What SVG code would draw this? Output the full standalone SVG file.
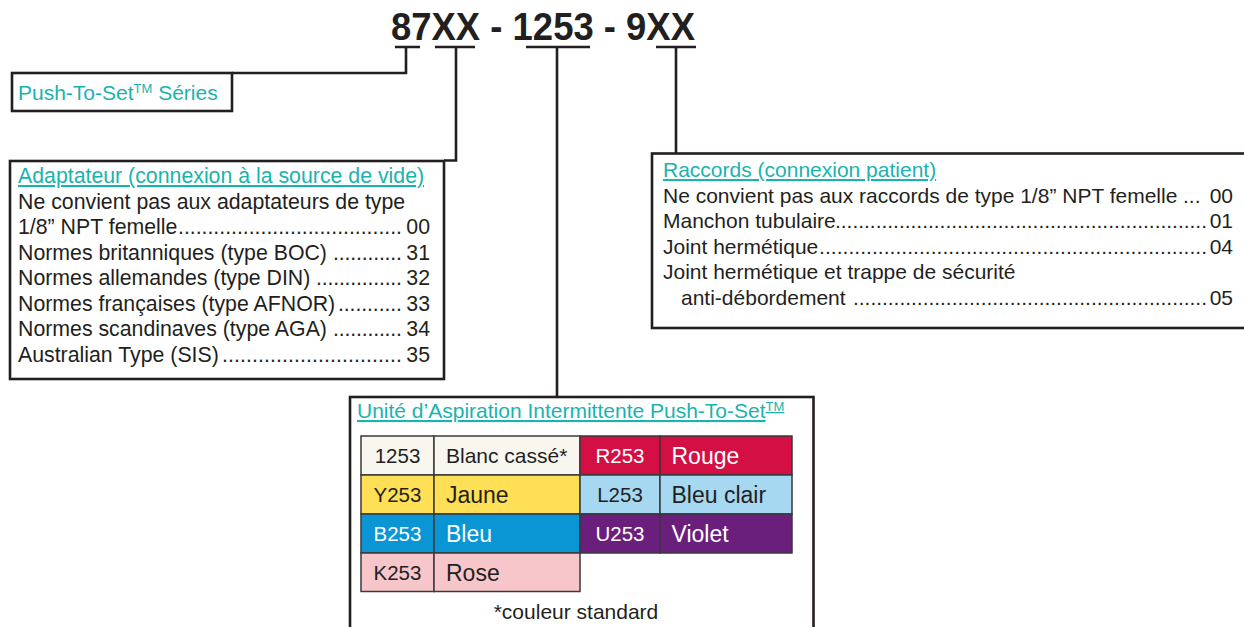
<svg xmlns="http://www.w3.org/2000/svg" width="1244" height="627" viewBox="0 0 1244 627">
<style>
text{font-family:"Liberation Sans",Arial,Helvetica,sans-serif;fill:#231f20}
.title{font-size:38px;font-weight:bold}
.hd{fill:#1ab3ad;text-decoration:underline}
.t{font-size:21px}
.ta{font-size:21.3px}
.box{fill:#fff;stroke:#231f20;stroke-width:2.6}
.conn{fill:none;stroke:#231f20;stroke-width:2.6}
.cell{stroke:#3a3a3a;stroke-width:1.5}
.code{font-size:20.5px;text-anchor:middle}
.nm{font-size:23px}
.w{fill:#fff}
</style>
<rect width="1244" height="627" fill="#fff"/>
<g id="title">
<text class="title" x="391" y="40" textLength="304" lengthAdjust="spacingAndGlyphs">87XX - 1253 - 9XX</text>
</g>
<g id="connectors">
<path class="conn" d="M395 47H420M406 47V73H232"/>
<path class="conn" d="M435 47H475M456 47V160.5H444"/>
<path class="conn" d="M526 47H590M557 47V397"/>
<path class="conn" d="M656 47H696M676 47V153.5"/>
</g>
<g id="series">
<rect class="box" x="12" y="73" width="220" height="38"/>
<text class="t" x="18" y="100" style="fill:#1ab3ad">Push-To-Set<tspan font-size="13" dy="-7">TM</tspan><tspan dy="7"> Séries</tspan></text>
</g>
<g id="adaptateur">
<rect class="box" x="10" y="161" width="434" height="218"/>
<text class="ta hd" x="18" y="183">Adaptateur (connexion à la source de vide)</text>
<text class="ta" x="18" y="209">Ne convient pas aux adaptateurs de type</text>
<text class="ta" x="18" y="234">1/8” NPT femelle</text>
<text class="ta" x="178" y="234" textLength="224" lengthAdjust="spacing">......................................</text>
<text class="ta" x="430" y="234" text-anchor="end">00</text>
<text class="ta" x="18" y="260">Normes britanniques (type BOC)</text>
<text class="ta" x="333" y="260" textLength="69" lengthAdjust="spacing">............</text>
<text class="ta" x="430" y="260" text-anchor="end">31</text>
<text class="ta" x="18" y="285">Normes allemandes (type DIN)</text>
<text class="ta" x="316" y="285" textLength="86" lengthAdjust="spacing">...............</text>
<text class="ta" x="430" y="285" text-anchor="end">32</text>
<text class="ta" x="18" y="310.5">Normes françaises (type AFNOR)</text>
<text class="ta" x="338" y="310.5" textLength="64" lengthAdjust="spacing">...........</text>
<text class="ta" x="430" y="310.5" text-anchor="end">33</text>
<text class="ta" x="18" y="336">Normes scandinaves (type AGA)</text>
<text class="ta" x="333" y="336" textLength="69" lengthAdjust="spacing">............</text>
<text class="ta" x="430" y="336" text-anchor="end">34</text>
<text class="ta" x="18" y="361.5">Australian Type (SIS)</text>
<text class="ta" x="222" y="361.5" textLength="180" lengthAdjust="spacing">..............................</text>
<text class="ta" x="430" y="361.5" text-anchor="end">35</text>
</g>
<g id="raccords">
<rect class="box" x="652" y="153.5" width="620" height="174.5"/>
<text class="t hd" x="663" y="177">Raccords (connexion patient)</text>
<text class="t" x="663" y="203">Ne convient pas aux raccords de type 1/8” NPT femelle</text>
<text class="t" x="1183" y="203">...</text>
<text class="t" x="1233" y="203" text-anchor="end">00</text>
<text class="t" x="663" y="228">Manchon tubulaire</text>
<text class="t" x="835" y="228" textLength="372" lengthAdjust="spacing">................................................................</text>
<text class="t" x="1233" y="228" text-anchor="end">01</text>
<text class="t" x="663" y="254">Joint hermétique</text>
<text class="t" x="819" y="254" textLength="388" lengthAdjust="spacing">..................................................................</text>
<text class="t" x="1233" y="254" text-anchor="end">04</text>
<text class="t" x="663" y="279">Joint hermétique et trappe de sécurité</text>
<text class="t" x="681" y="305">anti-débordement</text>
<text class="t" x="853" y="305" textLength="354" lengthAdjust="spacing">.............................................................</text>
<text class="t" x="1233" y="305" text-anchor="end">05</text>
</g>
<g id="unite">
<rect class="box" x="350" y="397" width="463.5" height="260"/>
<text class="t hd" x="357" y="418">Unité d’Aspiration Intermittente Push-To-Set<tspan font-size="13" dy="-7">TM</tspan></text>
<g id="colors">
<rect class="cell" x="361" y="436" width="73" height="39" fill="#f9f6ef"/>
<rect class="cell" x="434" y="436" width="146" height="39" fill="#f9f6ef"/>
<rect class="cell" x="580" y="436" width="80" height="39" fill="#d30f44"/>
<rect class="cell" x="660" y="436" width="132" height="39" fill="#d30f44"/>
<rect class="cell" x="361" y="475" width="73" height="39" fill="#fedf55"/>
<rect class="cell" x="434" y="475" width="146" height="39" fill="#fedf55"/>
<rect class="cell" x="580" y="475" width="80" height="39" fill="#a6d8f1"/>
<rect class="cell" x="660" y="475" width="132" height="39" fill="#a6d8f1"/>
<rect class="cell" x="361" y="514" width="73" height="39" fill="#0a95d5"/>
<rect class="cell" x="434" y="514" width="146" height="39" fill="#0a95d5"/>
<rect class="cell" x="580" y="514" width="80" height="39" fill="#6b1f7c"/>
<rect class="cell" x="660" y="514" width="132" height="39" fill="#6b1f7c"/>
<rect class="cell" x="361" y="553" width="73" height="38.5" fill="#f7c6ca"/>
<rect class="cell" x="434" y="553" width="146" height="38.5" fill="#f7c6ca"/>
<text class="code" x="397.5" y="463">1253</text>
<text class="t" x="446" y="463">Blanc cassé*</text>
<text class="code w" x="620" y="463">R253</text>
<text class="nm w" x="671.5" y="464">Rouge</text>
<text class="code" x="397.5" y="502">Y253</text>
<text class="nm" x="446" y="503">Jaune</text>
<text class="code" x="620" y="502">L253</text>
<text class="nm" x="671.5" y="503">Bleu clair</text>
<text class="code w" x="397.5" y="541">B253</text>
<text class="nm w" x="446" y="542">Bleu</text>
<text class="code w" x="620" y="541">U253</text>
<text class="nm w" x="671.5" y="542">Violet</text>
<text class="code" x="397.5" y="579.5">K253</text>
<text class="nm" x="446" y="580.5">Rose</text>
</g>
<text class="t" x="576" y="619" text-anchor="middle">*couleur standard</text>
</g>
</svg>
